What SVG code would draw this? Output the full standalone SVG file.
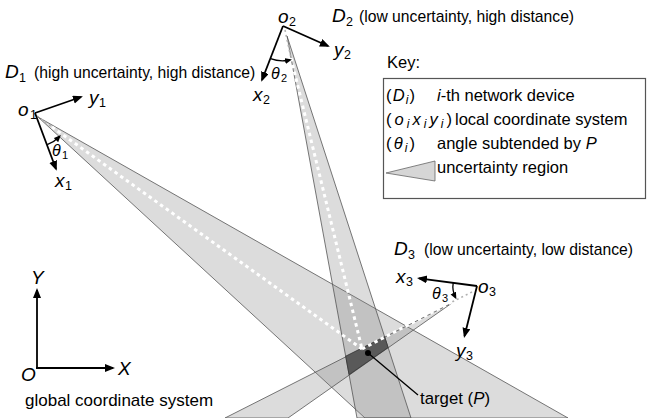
<svg xmlns="http://www.w3.org/2000/svg" width="648" height="418" viewBox="0 0 648 418">
<style>
text{font-family:"Liberation Sans",Arial,sans-serif;fill:#000}
.lbl{font-size:15.7px}
.big{font-size:19px;font-style:italic}
.sub{font-size:12.5px}
.key{font-size:16.5px}
.ks{font-size:12px}
.it{font-style:italic}
.wedge{fill:#808080;fill-opacity:.28;stroke:#555;stroke-width:.8}
.dots{fill:none;stroke:#fff;stroke-width:3;stroke-dasharray:3.5 3.5}
.gdots{fill:none;stroke:#b0b0b0;stroke-width:1.6;stroke-dasharray:2 3}
.ax{fill:none;stroke:#000;stroke-width:1.8}
.arc{fill:none;stroke:#000;stroke-width:1.3}
</style>
<defs>
<marker id="ah" markerUnits="userSpaceOnUse" markerWidth="11" markerHeight="9" refX="8" refY="4" orient="auto">
<path d="M0,0 L10,4 L0,8 z" fill="#000"/>
</marker>
<marker id="sh" markerUnits="userSpaceOnUse" markerWidth="8" markerHeight="7" refX="5" refY="3" orient="auto">
<path d="M0,0 L7,3 L0,6 z" fill="#000"/>
</marker>
</defs>
<rect width="648" height="418" fill="#fff"/>

<g id="regions">
<polygon class="wedge" points="38,117 365,418 568,418"/>
<polygon class="wedge" points="287,36 357,418 411,418"/>
<polygon class="wedge" points="452,303 225,418 288,418"/>
<polygon points="345.7,356.2 384.6,336.7 388.1,347.5 349.1,374.7" fill="#595959" stroke="#333" stroke-width="0.8"/>
</g>

<g id="connectors">
<line class="gdots" x1="37" y1="116" x2="52" y2="127"/>
<line class="gdots" x1="285" y1="30" x2="291" y2="58"/>
<line class="gdots" x1="472" y1="292" x2="452" y2="302"/>
<path class="dots" d="M52,127 L362,349"/>
<path class="dots" d="M291,58 L362,349"/>
<path class="dots" d="M452,302 L362,349"/>
<line x1="368" y1="353" x2="418" y2="395" stroke="#000" stroke-width="1.3"/>
</g>

<g id="target">
<circle cx="368" cy="353" r="3" fill="#000"/>
<text x="420" y="404" style="font-size:16.8px">target (<tspan class="it">P</tspan>)</text>
</g>

<g id="D1">
<line class="ax" x1="35" y1="113" x2="81" y2="97" marker-end="url(#ah)"/>
<line class="ax" x1="35" y1="113" x2="56" y2="169" marker-end="url(#ah)"/>
<path class="arc" d="M47.2,144.7 A34,34 0 0 0 59.5,136.5" marker-end="url(#sh)"/>
<text class="big" x="18" y="116">o</text><text class="sub" x="30" y="119">1</text>
<text class="big" x="89" y="104">y</text><text class="sub" x="99" y="107">1</text>
<text class="big" x="55" y="187">x</text><text class="sub" x="65" y="190">1</text>
<text x="52" y="156" style="font-size:16px;font-style:italic">θ</text><text class="sub" x="62" y="159" style="font-size:11px">1</text>
<text class="big" x="5" y="78">D</text><text class="sub" x="19" y="82">1</text>
<text class="lbl" x="34" y="78">(high uncertainty, high distance)</text>
</g>

<g id="D2">
<line class="ax" x1="283" y1="26" x2="328" y2="46" marker-end="url(#ah)"/>
<line class="ax" x1="283" y1="26" x2="262" y2="80" marker-end="url(#ah)"/>
<path class="arc" d="M270.5,58.7 A35,35 0 0 0 290,60" marker-end="url(#sh)"/>
<text class="big" x="278" y="23">o</text><text class="sub" x="289" y="26">2</text>
<text class="big" x="334" y="56">y</text><text class="sub" x="344" y="59">2</text>
<text class="big" x="253" y="101">x</text><text class="sub" x="263" y="104">2</text>
<text x="271" y="79" style="font-size:16px;font-style:italic">θ</text><text class="sub" x="281" y="82" style="font-size:11px">2</text>
<text class="big" x="332" y="22">D</text><text class="sub" x="346" y="26">2</text>
<text class="lbl" x="359" y="22">(low uncertainty, high distance)</text>
</g>

<g id="D3">
<line class="ax" x1="477" y1="286" x2="419" y2="278.3" marker-end="url(#ah)"/>
<line class="ax" x1="477" y1="286" x2="464.5" y2="336" marker-end="url(#ah)"/>
<path class="arc" d="M453.2,282.8 A24,24 0 0 0 455.5,297.5" marker-end="url(#sh)"/>
<text class="big" x="478" y="293">o</text><text class="sub" x="489" y="296">3</text>
<text class="big" x="396" y="283">x</text><text class="sub" x="406" y="286">3</text>
<text class="big" x="456" y="357">y</text><text class="sub" x="466" y="360">3</text>
<text x="432" y="299" style="font-size:16px;font-style:italic">θ</text><text class="sub" x="442" y="302" style="font-size:11px">3</text>
<text class="big" x="394" y="255">D</text><text class="sub" x="408" y="259">3</text>
<text class="lbl" x="424" y="255">(low uncertainty, low distance)</text>
</g>

<g id="global">
<line class="ax" x1="37" y1="368" x2="37" y2="290" marker-end="url(#ah)"/>
<line class="ax" x1="36" y1="368" x2="113" y2="368" marker-end="url(#ah)"/>
<text class="big" x="31" y="284">Y</text>
<text class="big" x="118" y="375">X</text>
<text class="big" x="21" y="381">O</text>
<text x="25" y="406" style="font-size:17px">global coordinate system</text>
</g>

<g id="key">
<text class="key" x="387" y="68">Key:</text>
<rect x="383.5" y="78.5" width="262" height="120" fill="none" stroke="#555" stroke-width="1.2"/>
<text class="key" x="386" y="101" textLength="29" lengthAdjust="spacing">(<tspan class="it">D</tspan><tspan class="ks" dy="3" font-style="italic">i</tspan><tspan dy="-3">)</tspan></text>
<text class="key" x="437" y="101"><tspan class="it">i</tspan>-th network device</text>
<text class="key" x="386" y="125" textLength="66" lengthAdjust="spacing">(<tspan class="it">o</tspan><tspan class="ks it" dy="3">i</tspan><tspan class="it" dy="-3">x</tspan><tspan class="ks it" dy="3">i</tspan><tspan class="it" dy="-3">y</tspan><tspan class="ks it" dy="3">i</tspan><tspan dy="-3">)</tspan></text>
<text class="key" x="455" y="125">local coordinate system</text>
<text class="key" x="386" y="149" textLength="29" lengthAdjust="spacing">(<tspan class="it">θ</tspan><tspan class="ks it" dy="3">i</tspan><tspan dy="-3">)</tspan></text>
<text class="key" x="437" y="149">angle subtended by <tspan class="it">P</tspan></text>
<polygon points="386,173 435,161 435,181" fill="#d6d6d6" stroke="#666" stroke-width="0.8"/>
<text class="key" x="437" y="173">uncertainty region</text>
</g>
</svg>
